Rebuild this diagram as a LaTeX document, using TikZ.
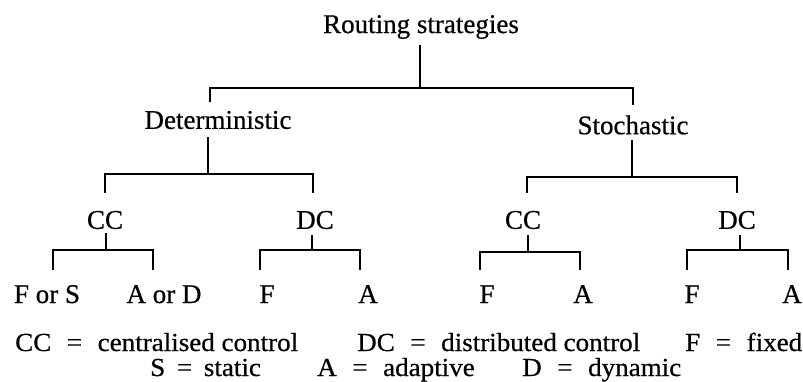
\documentclass[tikz,border=0pt]{standalone}
\usepackage{fontspec}
\setmainfont{Liberation Serif}[FakeBold=0.6]
\newfontfamily\legfont{Liberation Serif}[FakeBold=0.6,FakeStretch=1.04]
\newcommand{\eqsp}{\hspace{0.6em}=\hspace{0.6em}}
\begin{document}
\begin{tikzpicture}[x=1pt,y=1pt,
  lbl/.style={inner sep=0pt, font=\fontsize{27}{30}\selectfont},
  leaf/.style={inner sep=0pt, anchor=base, font=\fontsize{27}{30}\selectfont},
  leg/.style={inner sep=0pt, anchor=base west, font=\legfont\fontsize{26}{28}\selectfont},
  link/.style={line width=2.4pt}]
\useasboundingbox (0,0) rectangle (803,-382);
% nodes
\node[lbl] (root) at (421,-27) {Routing strategies};
\node[lbl] (det) at (218,-120) {Deterministic};
\node[lbl] (sto) at (633,-125) {Stochastic};
\node[lbl] (cc1) at (105,-220) {CC};
\node[lbl] (dc1) at (315,-220) {DC};
\node[lbl] (cc2) at (523,-220) {CC};
\node[lbl] (dc2) at (737,-220) {DC};
\node[leaf] (fs) at (47,-303) {F or S};
\node[leaf] (ad) at (164,-303) {A or D};
\node[leaf] (f1) at (267,-303) {F};
\node[leaf] (a1) at (368,-303) {A};
\node[leaf] (f2) at (487,-303) {F};
\node[leaf] (a2) at (583,-303) {A};
\node[leaf] (f3) at (692,-303) {F};
\node[leaf] (a3) at (792,-303) {A};
% legend
\node[leg] (l1) at (15,-351) {CC\eqsp centralised control};
\node[leg] (l2) at (357,-351) {DC\eqsp distributed control};
\node[leg] (l3) at (685,-351) {F\eqsp fixed};
\node[leg] (l4) at (150,-376) {S\hspace{0.45em}=\hspace{0.45em}static};
\node[leg] (l5) at (317,-376) {A\eqsp adaptive};
\node[leg] (l6) at (522,-376) {D\eqsp dynamic};
% junction coordinates
\coordinate (rs) at (420,-45);  \coordinate (rj) at (420,-88);
\coordinate (rl) at (210,-88);  \coordinate (rr) at (633,-88);
\coordinate (rle) at (210,-102); \coordinate (rre) at (633,-105);
\coordinate (ds) at (208,-137); \coordinate (dj) at (208,-174);
\coordinate (dl) at (105,-174); \coordinate (dr) at (313,-174);
\coordinate (dle) at (105,-193); \coordinate (dre) at (313,-193);
\coordinate (ss) at (632,-140); \coordinate (sj) at (632,-177);
\coordinate (sl) at (527,-177); \coordinate (sr) at (737,-177);
\coordinate (sle) at (527,-193); \coordinate (sre) at (737,-193);
\coordinate (c1s) at (106,-233); \coordinate (c1j) at (106,-250);
\coordinate (c1l) at (53,-250); \coordinate (c1r) at (153,-250);
\coordinate (c1le) at (53,-270); \coordinate (c1re) at (153,-270);
\coordinate (d1s) at (312,-235); \coordinate (d1j) at (312,-250);
\coordinate (d1l) at (260,-250); \coordinate (d1r) at (360,-250);
\coordinate (d1le) at (260,-270); \coordinate (d1re) at (360,-270);
\coordinate (c2s) at (528,-235); \coordinate (c2j) at (528,-252);
\coordinate (c2l) at (480,-252); \coordinate (c2r) at (580,-252);
\coordinate (c2le) at (480,-270); \coordinate (c2re) at (580,-270);
\coordinate (d2s) at (740,-235); \coordinate (d2j) at (740,-250);
\coordinate (d2l) at (687,-250); \coordinate (d2r) at (788,-250);
\coordinate (d2le) at (687,-270); \coordinate (d2re) at (788,-270);
% connectors
\draw[link] (rs) -- (rj);
\draw[link] (rle) -- (rl) -- (rr) -- (rre);
\draw[link] (ds) -- (dj);
\draw[link] (dle) -- (dl) -- (dr) -- (dre);
\draw[link] (ss) -- (sj);
\draw[link] (sle) -- (sl) -- (sr) -- (sre);
\draw[link] (c1s) -- (c1j);
\draw[link] (c1le) -- (c1l) -- (c1r) -- (c1re);
\draw[link] (d1s) -- (d1j);
\draw[link] (d1le) -- (d1l) -- (d1r) -- (d1re);
\draw[link] (c2s) -- (c2j);
\draw[link] (c2le) -- (c2l) -- (c2r) -- (c2re);
\draw[link] (d2s) -- (d2j);
\draw[link] (d2le) -- (d2l) -- (d2r) -- (d2re);
\end{tikzpicture}
\end{document}
